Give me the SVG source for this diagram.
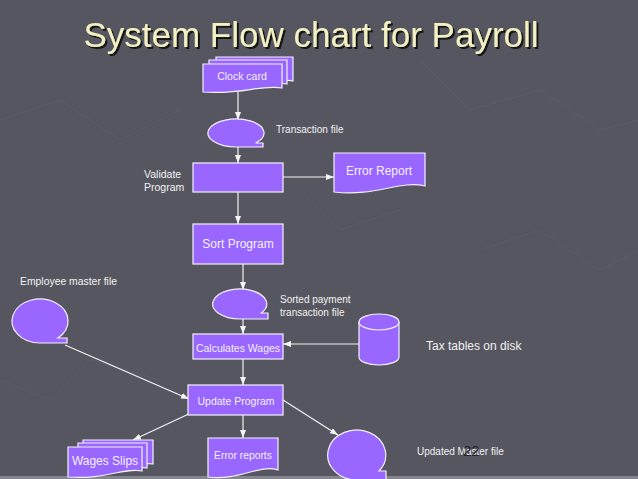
<svg xmlns="http://www.w3.org/2000/svg" width="638" height="479" viewBox="0 0 638 479">
<defs>
<style>
.shape{fill:#9966ff;stroke:#f4f0ff;stroke-width:1.2}
.lbl{font-family:"Liberation Sans",Arial,sans-serif;fill:#f2f2f2}
.in{font-family:"Liberation Sans",Arial,sans-serif;fill:#f4f0ff;text-anchor:middle}
.conn{stroke:#f4f4f4;stroke-width:1.2;fill:none}
</style>
<filter id="shadow" x="-5%" y="-20%" width="110%" height="150%">
<feDropShadow dx="2" dy="2" stdDeviation="0.4" flood-color="#151515" flood-opacity="1"/>
</filter>
<marker id="ah" markerWidth="8" markerHeight="6" refX="8" refY="3" orient="auto" markerUnits="userSpaceOnUse">
<path d="M0,0 L8,3 L0,6 z" fill="#f4f4f4"/>
</marker>
</defs>
<rect width="638" height="479" fill="#55565f"/>
<g stroke="#5e5f69" stroke-width="1" fill="none" opacity="0.7">
<path d="M0,120 L60,100 L120,140 L180,110"/>
<path d="M420,60 L470,110 L540,90 L600,130 L638,120"/>
<path d="M0,380 L50,400 L90,360 L160,380"/>
<path d="M480,250 L540,230 L600,270 L638,250"/>
<path d="M300,190 L340,230 L400,210"/>
</g>
<rect x="0" y="476" width="638" height="3" fill="#85868d"/>
<g id="title">
<text x="311" y="47" font-family="'Liberation Sans',Arial,sans-serif" font-size="35" text-anchor="middle" fill="#f3f0c4" filter="url(#shadow)">System Flow chart for Payroll</text>
</g>
<g id="connectors">
<line class="conn" x1="238" y1="91" x2="238" y2="120" marker-end="url(#ah)"/>
<line class="conn" x1="238" y1="147" x2="238" y2="163" marker-end="url(#ah)"/>
<line class="conn" x1="283" y1="177" x2="334" y2="177" marker-end="url(#ah)"/>
<line class="conn" x1="238" y1="192" x2="238" y2="224" marker-end="url(#ah)"/>
<line class="conn" x1="243" y1="264" x2="243" y2="290" marker-end="url(#ah)"/>
<line class="conn" x1="243" y1="319" x2="243" y2="334" marker-end="url(#ah)"/>
<line class="conn" x1="359" y1="344" x2="283" y2="344" marker-end="url(#ah)"/>
<line class="conn" x1="243" y1="359" x2="243" y2="385" marker-end="url(#ah)"/>
<line class="conn" x1="65" y1="345" x2="189" y2="399" marker-end="url(#ah)"/>
<line class="conn" x1="193" y1="412" x2="133" y2="440" marker-end="url(#ah)"/>
<line class="conn" x1="243" y1="415" x2="243" y2="438" marker-end="url(#ah)"/>
<line class="conn" x1="283" y1="400" x2="338" y2="435" marker-end="url(#ah)"/>
</g>
<g id="clock-card">
<path class="shape" d="M216,57 H293 V81 C280,78 270,86 260,85 L216,85 Z"/>
<path class="shape" d="M209,60 H287 V84 C275,81 262,90 250,88 L209,88 Z"/>
<path class="shape" d="M203,64 H282 V88 C262,84 242,95 203,92 Z"/>
<text class="in" x="242" y="80" font-size="10.5">Clock card</text>
</g>
<g id="transaction-file">
<path class="shape" d="M255.6,143 A28,14 0 1 0 236,147 H263 V143 Z"/>
<text class="lbl" x="276" y="133" font-size="10">Transaction file</text>
</g>
<g id="validate-program">
<rect class="shape" x="193" y="163" width="90" height="29"/>
<text class="lbl" x="144" y="178" font-size="10.5">Validate</text>
<text class="lbl" x="144" y="191" font-size="10.5">Program</text>
</g>
<g id="error-report">
<path class="shape" d="M334,153 H425 V186 C400,180 375,197 334,192 Z"/>
<text class="in" x="379" y="175" font-size="12">Error Report</text>
</g>
<g id="sort-program">
<rect class="shape" x="193" y="224" width="90" height="40"/>
<text class="in" x="238" y="248" font-size="12">Sort Program</text>
</g>
<g id="sorted-payment">
<path class="shape" d="M261.3,313 A27,15 0 1 0 240,319 H268 V313 Z"/>
<text class="lbl" x="280" y="303" font-size="10">Sorted payment</text>
<text class="lbl" x="280" y="316" font-size="10">transaction file</text>
</g>
<g id="employee-master">
<path class="shape" d="M57.8,338 A28,22 0 1 0 40,343 H67 V338 Z"/>
<text class="lbl" x="20" y="285" font-size="10.4">Employee master file</text>
</g>
<g id="calculates-wages">
<rect class="shape" x="193" y="334" width="90" height="25"/>
<text class="in" x="238" y="352" font-size="10.5">Calculates Wages</text>
</g>
<g id="tax-tables">
<path class="shape" d="M359,322 V357 A20,8 0 0 0 399,357 V322 A20,8 0 0 0 359,322 Z"/>
<path fill="none" stroke="#f4f0ff" stroke-width="1.2" d="M359,322 A20,8 0 0 0 399,322"/>
<text class="lbl" x="426" y="350" font-size="12">Tax tables on disk</text>
</g>
<g id="update-program">
<rect class="shape" x="188" y="385" width="95" height="30"/>
<text class="in" x="236" y="405" font-size="10.5">Update Program</text>
</g>
<g id="wages-slips">
<path class="shape" d="M83,440 H153 V464 C145,462 138,467 130,467 L83,467 Z"/>
<path class="shape" d="M78,443 H147 V468 C140,466 132,471 124,471 L78,471 Z"/>
<path class="shape" d="M68,447 H142 V471 C125,467 105,480 68,477 Z"/>
<text class="in" x="105" y="465" font-size="12">Wages Slips</text>
</g>
<g id="error-reports">
<path class="shape" d="M208,438 H278 V470 C258,464 240,481 208,477 Z"/>
<text class="in" x="243" y="459" font-size="10.3">Error reports</text>
</g>
<g id="updated-master">
<path class="shape" d="M379,471 A29,25 0 1 0 357,480 H386 V471 Z"/>
<text class="lbl" x="417" y="455" font-size="10">Updated Master file</text>
<text x="463" y="456" font-family="'Liberation Sans',Arial,sans-serif" font-size="15" fill="#222228">22</text>
</g>
</svg>
